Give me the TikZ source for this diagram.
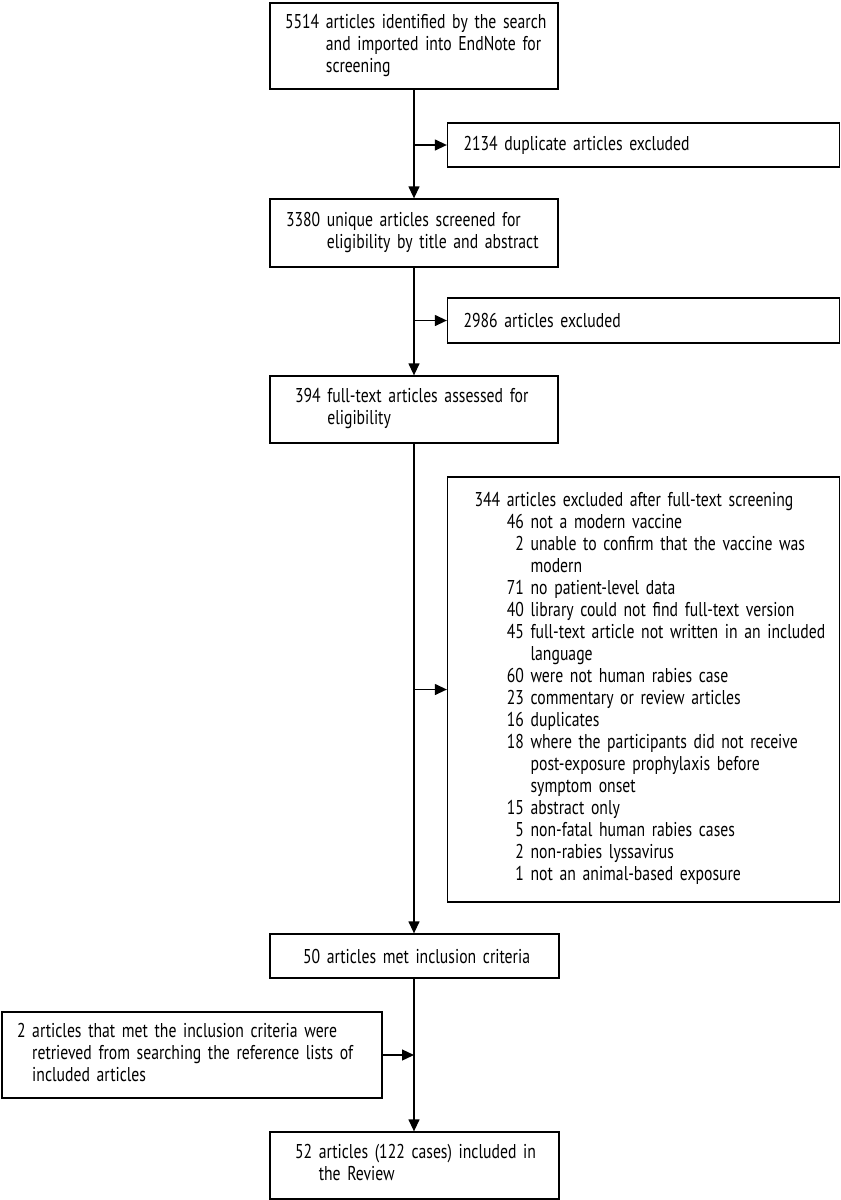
\documentclass[tikz,border=0pt]{standalone}
\usepackage{fontspec}
\setmainfont{PT Sans}[FakeStretch=0.785, WordSpace=0.55]
\usetikzlibrary{arrows.meta}

\begin{document}
\begin{tikzpicture}[
    x=1pt, y=-1pt,
    >={Triangle[length=12pt,width=11pt]},
    box/.style={draw, rectangle, line width=1.3pt, inner ysep=0pt, align=left, font=\fontsize{20}{22}\selectfont},
    flow/.style={->, line width=1.3pt}
]
    \useasboundingbox (0,0) rectangle (841,1200);

    % Main column
    \node[box, text width=258pt, inner xsep=15pt, minimum height=86pt] (found) at (414,46) {%
        \begin{tabular}{@{}r@{\ }l@{}}
        5514 & articles identified by the search\\
             & and imported into EndNote for\\
             & screening
        \end{tabular}};
    \node[box, text width=256pt, inner xsep=16pt, minimum height=68pt] (unique) at (414,233) {%
        \begin{tabular}{@{}r@{\ }l@{}}
        3380 & unique articles screened for\\
             & eligibility by title and abstract
        \end{tabular}};
    \node[box, text width=238pt, inner xsep=25pt, minimum height=67pt] (fulltext) at (414,409.5) {%
        \begin{tabular}{@{}r@{\ }l@{}}
        394 & full-text articles assessed for\\
            & eligibility
        \end{tabular}};
    \node[box, text width=223pt, inner xsep=33pt, minimum height=44pt] (met) at (414.5,956) {\mbox{50 articles met inclusion criteria}};
    \node[box, text width=239pt, inner xsep=25pt, minimum height=67pt] (review) at (414.5,1165.5) {%
        \begin{tabular}{@{}r@{\ }l@{}}
        52 & articles (122 cases) included in\\
           & the Review
        \end{tabular}};

    % Exclusion boxes
    \node[box, text width=360pt, inner xsep=16pt, minimum height=44pt] (dupl) at (643.5,145) {\mbox{2134 duplicate articles excluded}};
    \node[box, text width=360pt, inner xsep=16pt, minimum height=45pt] (excl) at (643.5,320.5) {\mbox{2986 articles excluded}};
    \node[box, text width=338pt, inner xsep=27pt, minimum height=425pt] (reasons) at (643.5,689.5) {%
        \begin{tabular}{@{}r@{\ }r@{\ }l@{}}
        344 & \multicolumn{2}{@{}l@{}}{articles excluded after full-text screening}\\
            & 46 & not a modern vaccine\\
            & 2  & unable to confirm that the vaccine was\\
            &    & modern\\
            & 71 & no patient-level data\\
            & 40 & library could not find full-text version\\
            & 45 & full-text article not written in an included\\
            &    & language\\
            & 60 & were not human rabies case\\
            & 23 & commentary or review articles\\
            & 16 & duplicates\\
            & 18 & where the participants did not receive\\
            &    & post-exposure prophylaxis before\\
            &    & symptom onset\\
            & 15 & abstract only\\
            & 5  & non-fatal human rabies cases\\
            & 2  & non-rabies lyssavirus\\
            & 1  & not an animal-based exposure
        \end{tabular}};

    % Extra articles
    \node[box, text width=350pt, inner xsep=15pt, minimum height=86pt] (extra) at (192,1055) {%
        \begin{tabular}{@{}r@{\ }l@{}}
        2 & articles that met the inclusion criteria were\\
          & retrieved from searching the reference lists of\\
          & included articles
        \end{tabular}};

    % Connections
    \draw[flow] (found) -- (unique);
    \draw[flow] (unique) -- (fulltext);
    \draw[flow] (fulltext.south) -- (fulltext.south |- met.north);
    \draw[flow] (met.south -| fulltext.south) -- (review.north -| fulltext.south);

    % Side arrows
    \draw[flow] (found.south |- dupl.west) -- (dupl.west);
    \draw[flow] (found.south |- excl.west) -- (excl.west);
    \draw[flow] (found.south |- reasons.west) -- (reasons.west);
    \draw[flow] (extra.east) -- (extra.east -| found.south);

\end{tikzpicture}
\end{document}
